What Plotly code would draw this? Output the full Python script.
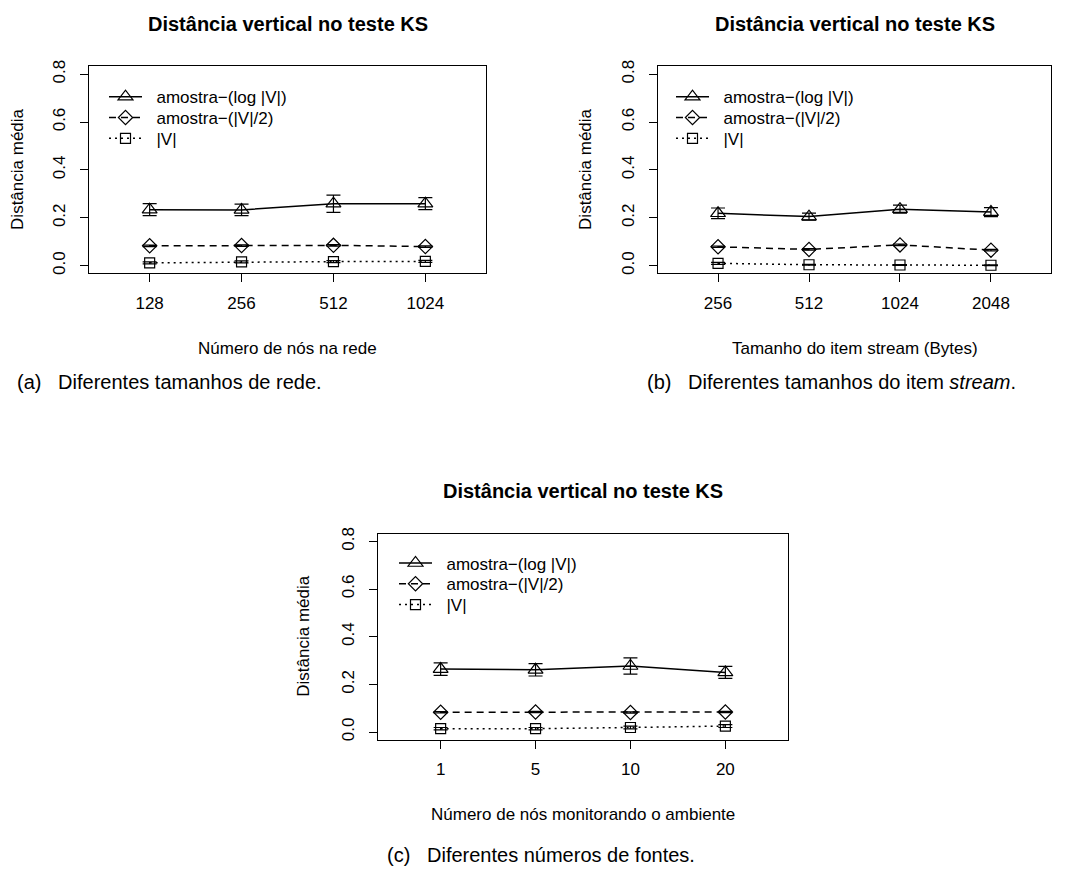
import plotly.graph_objects as go

W, H = 1085, 895
OFF = 8  # page body margin compensation

# ---------------- data ----------------
series_names = ["amostra−(log |V|)", "amostra−(|V|/2)", "|V|"]
plot_title = "Distância vertical no teste KS"
y_title = "Distância média"

cats_a = ["128", "256", "512", "1024"]
log_a = [0.234, 0.233, 0.259, 0.259]
log_a_err = [0.025, 0.024, 0.036, 0.025]
half_a = [0.083, 0.084, 0.085, 0.080]
half_a_err = [0.003, 0.003, 0.003, 0.003]
v_a = [0.012, 0.016, 0.017, 0.018]
v_a_err = [0.004, 0.004, 0.004, 0.004]
xlabel_a = "Número de nós na rede"
caption_a = "(a)\u00a0\u00a0\u00a0Diferentes tamanhos de rede."

cats_b = ["256", "512", "1024", "2048"]
log_b = [0.219, 0.205, 0.236, 0.224]
log_b_err = [0.022, 0.015, 0.017, 0.019]
half_b = [0.079, 0.068, 0.087, 0.065]
half_b_err = [0.003, 0.003, 0.003, 0.003]
v_b = [0.010, 0.004, 0.003, 0.002]
v_b_err = [0.004, 0.002, 0.002, 0.002]
xlabel_b = "Tamanho do item stream (Bytes)"
caption_b = "(b)\u00a0\u00a0\u00a0Diferentes tamanhos do item <i>stream</i>."

cats_c = ["1", "5", "10", "20"]
log_c = [0.264, 0.261, 0.277, 0.250]
log_c_err = [0.026, 0.026, 0.034, 0.025]
half_c = [0.083, 0.084, 0.082, 0.084]
half_c_err = [0.003, 0.003, 0.003, 0.003]
v_c = [0.014, 0.014, 0.019, 0.025]
v_c_err = [0.005, 0.005, 0.006, 0.006]
xlabel_c = "Número de nós monitorando o ambiente"
caption_c = "(c)\u00a0\u00a0\u00a0Diferentes números de fontes."

y_ticks = [0.0, 0.2, 0.4, 0.6, 0.8]
y_ticktext = ["0.0", "0.2", "0.4", "0.6", "0.8"]

# ---------------- layout geometry (pixels) ----------------
FONT = "Liberation Sans, Arial, Helvetica, sans-serif"


def px(x):
    return (x - OFF) / W


def py(y):
    return 1 - (y - OFF) / H


panels = [
    dict(cats=cats_a, log=log_a, loge=log_a_err, half=half_a, halfe=half_a_err, v=v_a, ve=v_a_err,
         box=(89, 486, 60, 269), xlabel=xlabel_a, caption=caption_a, cap_x=169, cap_y=379,
         ylab_x=18, leg_x=104, leg_y=(91, 112, 133)),
    dict(cats=cats_b, log=log_b, loge=log_b_err, half=half_b, halfe=half_b_err, v=v_b, ve=v_b_err,
         box=(658, 1051, 60, 269), xlabel=xlabel_b, caption=caption_b, cap_x=831, cap_y=379,
         ylab_x=586, leg_x=671, leg_y=(91, 112, 133)),
    dict(cats=cats_c, log=log_c, loge=log_c_err, half=half_c, halfe=half_c_err, v=v_c, ve=v_c_err,
         box=(378, 788, 532, 740), xlabel=xlabel_c, caption=caption_c, cap_x=541, cap_y=857,
         ylab_x=304, leg_x=394, leg_y=(562, 583, 604)),
]

styles = [
    dict(symbol="triangle-up-open", size=13, dash="solid"),
    dict(symbol="diamond-open", size=11, dash="7px,5px"),
    dict(symbol="square-open", size=10, dash="2px,4px"),
]

fig = go.Figure()
annotations = []
layout = dict(
    width=W, height=H,
    margin=dict(l=0, r=0, t=0, b=0),
    paper_bgcolor="white", plot_bgcolor="white",
    font=dict(family=FONT, size=17, color="black"),
    showlegend=True,
)

leg_idx = 0
for i, p in enumerate(panels):
    n = "" if i == 0 else str(i + 1)
    x0, x1, y0, y1 = p["box"]
    layout["xaxis" + n] = dict(
        domain=[px(x0), px(x1)], anchor="y" + n,
        type="category", categoryorder="array", categoryarray=p["cats"],
        range=[-0.66, 3.66],
        showline=True, linecolor="black", linewidth=1, mirror=True,
        ticks="outside", ticklen=8, tickwidth=1, tickcolor="black",
        tickfont=dict(size=17, family=FONT, color="black"),
        ticklabelstandoff=6,
        showgrid=False, zeroline=False, fixedrange=True,
    )
    layout["yaxis" + n] = dict(
        domain=[py(y1), py(y0)], anchor="x" + n,
        range=[-0.032, 0.832],
        tickmode="array", tickvals=y_ticks, ticktext=y_ticktext, tickangle=-90,
        showline=True, linecolor="black", linewidth=1, mirror=True,
        ticks="outside", ticklen=8, tickwidth=1, tickcolor="black",
        tickfont=dict(size=17, family=FONT, color="black"),
        ticklabelstandoff=8,
        showgrid=False, zeroline=False, fixedrange=True,
    )
    vals = [(p["log"], p["loge"]), (p["half"], p["halfe"]), (p["v"], p["ve"])]
    for k, (yv, ye) in enumerate(vals):
        st = styles[k]
        leg_idx += 1
        legname = "legend" if leg_idx == 1 else "legend" + str(leg_idx)
        layout[legname] = dict(
            x=px(p["leg_x"]), y=py(p["leg_y"][k]), xanchor="left", yanchor="middle",
            bgcolor="rgba(0,0,0,0)", borderwidth=0,
            font=dict(size=17, family=FONT, color="black"),
            itemwidth=33, tracegroupgap=0,
        )
        fig.add_trace(go.Scatter(
            x=p["cats"], y=yv, mode="lines+markers",
            name="\u00a0\u00a0" + series_names[k],
            xaxis="x" + n, yaxis="y" + n, legend=legname,
            line=dict(color="black", width=1.5, dash=st["dash"]),
            marker=dict(symbol=st["symbol"], size=st["size"], color="black",
                        line=dict(color="black", width=1.2)),
            error_y=dict(type="data", array=ye, visible=True, color="black",
                         thickness=1.2, width=7),
            hoverinfo="skip",
        ))
    cx = (x0 + x1) / 2
    cy = (y0 + y1) / 2
    annotations.append(dict(text="<b>" + plot_title + "</b>", x=px(cx), y=py(y0 - 43),
                            xref="paper", yref="paper", showarrow=False,
                            xanchor="center", yanchor="middle",
                            font=dict(size=20, family=FONT, color="black")))
    annotations.append(dict(text=p["xlabel"], x=px(cx), y=py(y1 + 76),
                            xref="paper", yref="paper", showarrow=False,
                            xanchor="center", yanchor="middle",
                            font=dict(size=17, family=FONT, color="black")))
    annotations.append(dict(text=y_title, x=px(p["ylab_x"]), y=py(cy),
                            xref="paper", yref="paper", showarrow=False, textangle=-90,
                            xanchor="center", yanchor="middle",
                            font=dict(size=17, family=FONT, color="black")))
    annotations.append(dict(text=p["caption"], x=px(p["cap_x"]), y=py(p["cap_y"]),
                            xref="paper", yref="paper", showarrow=False,
                            xanchor="center", yanchor="middle",
                            font=dict(size=20, family=FONT, color="black")))

layout["annotations"] = annotations
fig.update_layout(**layout)
fig.write_html("out.html")
